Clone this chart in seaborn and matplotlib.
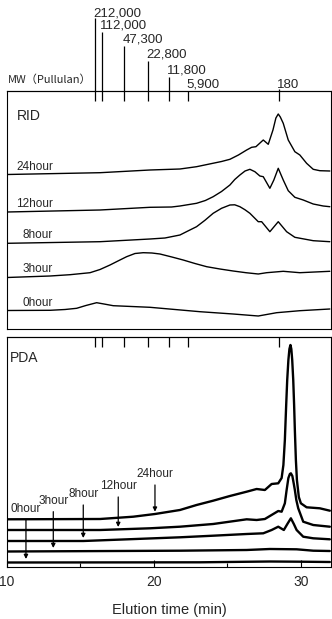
import numpy as np
import seaborn as sns
import matplotlib.pyplot as plt
from matplotlib.transforms import blended_transform_factory


# Chromatogram traces: time (min) and detector signal (a.u.)
hours = ['0hour', '3hour', '8hour', '12hour', '24hour']

# RID traces
rid_0h_t = [10.0, 12.93, 13.95, 14.74, 15.37, 16.10, 16.60, 17.23, 19.73, 23.13, 25.39, 27.10,
            28.35, 29.93, 31.97]
rid_0h_y = [0, 0.2, 1.0, 2.2, 5.0, 7.8, 6.5, 4.8, 3.2, -1.2, -3.5, -5.5,
            -2.2, -0.2, 1.5]

rid_3h_t = [10.0, 12.93, 14.29, 15.65, 16.33, 17.01, 17.55, 18.14, 18.71, 19.27, 19.86, 20.41,
            21.22, 21.99, 22.79, 23.59, 24.49, 25.39, 26.26, 27.10, 27.67, 28.80, 29.93, 31.97]
rid_3h_y = [0, 1.5, 2.8, 4.8, 8, 12.5, 16.5, 20.8, 24, 24.8, 24.5, 23.5,
            20.5, 17.5, 14, 10.8, 8.5, 6.5, 4.8, 3.5, 4.8, 6.2, 4.8, 6.2]

rid_8h_t = [10.0, 16.33, 19.73, 20.75, 21.77, 22.31, 22.90, 23.47, 24.03, 24.60, 25.17, 25.50,
            25.85, 26.20, 26.53, 27.10, 27.33, 27.89, 28.46, 29.03, 29.59, 30.84, 31.97]
rid_8h_y = [0, 1.6, 4.3, 5.3, 8.3, 12.3, 16.6, 23, 30, 35, 38.3, 38.5,
            36.6, 33.5, 30, 21.6, 21.6, 11.6, 21.6, 11.6, 6, 2.6, 1.6]

rid_12h_t = [10.0, 16.33, 19.73, 21.20, 21.77, 22.90, 23.50, 24.03, 24.60, 25.17, 25.50, 25.85,
             26.20, 26.53, 26.87, 27.21, 27.44, 27.89, 28.16, 28.46, 28.80, 29.14, 29.59, 30.16,
             30.84, 31.52, 31.97]
rid_12h_y = [0, 2, 4.7, 5, 6, 8.7, 11.5, 15.3, 20.5, 27, 32.5, 37,
             41, 42.7, 40.3, 36, 35.3, 23.7, 32, 43.7, 32, 21.3, 14.7, 12,
             8, 6, 5.3]

rid_24h_t = [10.0, 16.33, 19.73, 21.77, 22.90, 24.01, 24.60, 25.17, 25.75, 26.31, 26.65, 26.94,
             27.44, 27.78, 28.10, 28.30, 28.46, 28.60, 28.80, 29.14, 29.59, 29.93, 30.39, 30.84,
             31.29, 31.97]
rid_24h_y = [0, 1.8, 4.5, 5.5, 7.8, 11.2, 13, 15.2, 19.5, 24.5, 27.2, 27.8,
             34.5, 30.2, 44.5, 56.5, 60.5, 57.5, 51.2, 34.5, 22.8, 19.5, 11.2, 5.2,
             3.8, 3.5]

# PDA traces
pda_0h_t = [10.0, 23.13, 27.89, 29.93, 31.97]
pda_0h_y = [0, 0.2, 1, 0.8, 0.5]

pda_3h_t = [10.0, 21.77, 26.31, 27.89, 29.71, 30.84, 31.97]
pda_3h_y = [0, 0.8, 1.5, 2.5, 2.2, 0.8, 0.5]

pda_8h_t = [10.0, 15.19, 21.77, 24.03, 26.31, 27.44, 28.01, 28.46, 28.84, 29.08, 29.32, 29.52,
            29.71, 30.16, 30.84, 31.97]
pda_8h_y = [0, 0, 3.7, 5.3, 7, 7.7, 11, 14.3, 11, 17, 22.7, 17,
            11, 4.3, 2.7, 1.7]

pda_12h_t = [10.0, 16.33, 19.73, 21.77, 24.03, 26.31, 26.99, 27.55, 28.46, 28.69, 28.91, 29.03,
             29.15, 29.25, 29.32, 29.42, 29.52, 29.59, 29.69, 29.82, 30.16, 30.84, 31.97]
pda_12h_y = [0, 0, 1.7, 3.3, 6, 10.7, 10, 11, 19, 18.3, 26.7, 40,
             52, 56, 56.7, 54, 46, 40, 30, 21.7, 8.3, 5, 3.3]

pda_24h_t = [10.0, 16.33, 18.59, 20.07, 21.77, 22.90, 24.03, 25.17, 26.31, 26.99, 27.55, 28.01,
             28.46, 28.69, 28.81, 28.91, 29.00, 29.07, 29.15, 29.22, 29.29, 29.35, 29.41, 29.48,
             29.54, 29.59, 29.66, 29.73, 29.86, 30.00, 30.39, 31.29, 31.97]
pda_24h_y = [0, 0.3, 2.6, 5.3, 9.3, 14.3, 18.6, 23.3, 27.6, 30.3, 29.3, 35.3,
             36, 41.3, 54.3, 79.3, 114.3, 139.3, 159.3, 170.3, 174.3, 170.3, 159.3, 139.3,
             114.3, 89.3, 59.3, 39.3, 22.3, 16, 12, 11, 8.6]

# pullulan standards (elution time of each MW marker)
mw_labels = ['212,000', '112,000', '47,300', '22,800', '11,800', '5,900', '180']
mw_time = [15.99, 16.44, 17.98, 19.57, 21.02, 22.33, 28.50]

# arrows marking each PDA trace
pda_arrow_time = [11.29, 13.15, 15.19, 17.57, 20.07]
pda_arrow_tip = [8, 19, 29, 40, 55.3]
pda_label_y = [55.3, 63, 69.7, 77.7, 89.7]


# ---- layout (pixels of a 332x619 image)
W, H = 332, 619
rid_offsets = [18.5, 51.5, 85.7, 117, 154.5]
pda_offsets = [4.5, 15.5, 26, 37, 47.7]
mw_line_rise = [73, 59, 45, 30, 14, 0, 2]
mw_text_rise = [74.5, 62.5, 48.5, 33.5, 17.5, 3.5, 3.5]

sns.set_theme(style='white')
plt.rcParams['font.family'] = ['Liberation Sans', 'DejaVu Sans']


def box(l, t, r, b):
    return [l / W, 1 - b / H, (r - l) / W, (b - t) / H]


fig = plt.figure(figsize=(W / 100, H / 100), dpi=100)
ax1 = fig.add_axes(box(7, 91, 331, 329))
ax2 = fig.add_axes(box(7, 337, 331, 567))

rid = [(rid_0h_t, rid_0h_y), (rid_3h_t, rid_3h_y), (rid_8h_t, rid_8h_y),
       (rid_12h_t, rid_12h_y), (rid_24h_t, rid_24h_y)]
pda = [(pda_0h_t, pda_0h_y), (pda_3h_t, pda_3h_y), (pda_8h_t, pda_8h_y),
       (pda_12h_t, pda_12h_y), (pda_24h_t, pda_24h_y)]

for (t, s), off, lab in zip(rid, rid_offsets, hours):
    sns.lineplot(x=t, y=np.array(s) + off, ax=ax1, color='black', lw=1.0,
                 sort=False, estimator=None)
    ax1.text(13.13, off + 5, lab, ha='right', va='baseline', fontsize=8.5)

for (t, s), off in zip(pda, pda_offsets):
    sns.lineplot(x=t, y=np.array(s) + off, ax=ax2, color='black', lw=1.7,
                 sort=False, estimator=None)

for lab, t, tip, ly in zip(hours, pda_arrow_time, pda_arrow_tip, pda_label_y):
    ax2.annotate(lab, xy=(t, tip), xytext=(t, ly), ha='center', va='baseline',
                 fontsize=8.5,
                 arrowprops=dict(arrowstyle='-|>', color='black', lw=0.9,
                                 mutation_scale=6, shrinkA=1, shrinkB=0))

for ax, ymax in ((ax1, 238), (ax2, 230)):
    ax.set_xlim(10, 32.05)
    ax.set_ylim(0, ymax)
    ax.set_yticks([])
    for sp in ax.spines.values():
        sp.set_color('black')
        sp.set_linewidth(0.8)
    sec = ax.secondary_xaxis('top')
    sec.set_xticks(mw_time)
    sec.set_xticklabels([])
    sec.tick_params(direction='in', length=7.5, width=0.9, color='black')
    sec.spines['top'].set_color('black')
    sec.spines['top'].set_linewidth(0.8)

ax1.tick_params(bottom=False, labelbottom=False)
ax1.set_xticks([])
ax2.set_xticks([10, 20, 30])
ax2.set_xticks([15, 25], minor=True)
ax2.tick_params(axis='x', which='major', direction='in', length=5, width=0.8,
                color='black', labelsize=10, pad=6, bottom=True)
ax2.tick_params(axis='x', which='minor', direction='in', length=3, width=0.8,
                color='black', bottom=True)
ax2.set_xlabel('Elution time (min)', fontsize=10.5, labelpad=10)

ax1.text(0.031, 0.878, 'RID', transform=ax1.transAxes, fontsize=10, va='baseline')
ax2.text(0.009, 0.893, 'PDA', transform=ax2.transAxes, fontsize=10, va='baseline')

# marker lines above the RID panel with their molecular weights
ax_h = 238
trans = blended_transform_factory(ax1.transData, ax1.transAxes)
for t, lab, lr, tr in zip(mw_time, mw_labels, mw_line_rise, mw_text_rise):
    if lr > 0:
        ax1.vlines(t, 1.0, 1 + lr / ax_h, transform=trans, color='black',
                   lw=0.9, clip_on=False)
    ax1.text(t - 0.12, 1 + tr / ax_h, lab, transform=trans, ha='left',
             va='baseline', fontsize=9.5)

ax1.text(0.003, 1 + 8 / ax_h, 'MW（Pullulan）', transform=ax1.transAxes,
         fontsize=8, va='baseline', family=['Noto Sans CJK JP', 'DejaVu Sans'])

fig.savefig('out.png', dpi=100)
